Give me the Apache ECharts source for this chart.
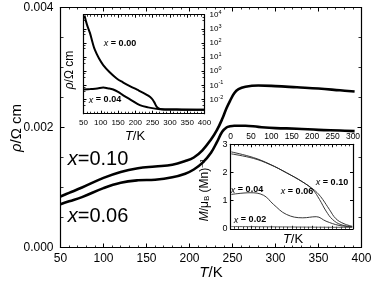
<!DOCTYPE html>
<html>
<head>
<meta charset="utf-8">
<script src="https://cdn.jsdelivr.net/npm/echarts@6/dist/echarts.min.js"></script>
<style>
html,body{margin:0;padding:0;background:#fff;}
#c{width:375px;height:287px;}
</style>
</head>
<body>
<div id="c"></div>
<script>
// ---- Main panel: resistivity (Ω cm) vs T (K)
const T_MAIN   = [50, 60, 75, 100, 120, 140, 160, 180, 195, 205, 215, 225, 232, 238, 243, 247, 252, 257, 265, 280, 300, 325, 350, 375, 392];
const RHO_X010 = [0.00085,0.00091,0.00100,0.00116,0.00126,0.00132,0.00135,0.00138,0.00144,0.00150,0.00162,0.00180,0.00196,0.00214,0.00232,0.00244,0.00257,0.00264,0.00268,0.00270,0.00269,0.00267,0.00265,0.00262,0.00260];
const RHO_X006 = [0.00072,0.00077,0.00084,0.00099,0.00108,0.00112,0.00113,0.00117,0.00123,0.00130,0.00141,0.00158,0.00176,0.00193,0.00200,0.00202,0.00203,0.00203,0.00203,0.00201,0.00199,0.00198,0.00196,0.00195,0.00194];
const MAIN_X_TICKS = [50, 400, 50];
const MAIN_Y_TICKS = [0, 0.004, 0.002];

// ---- Inset 1: log resistivity
const T_IN1_X000   = [53, 60, 69, 76, 83, 95, 107, 125, 146, 165, 184, 205, 223, 237, 247, 255, 262, 271, 285, 320, 360, 400];
const RHO_IN1_X000 = [8900, 2000, 480, 112, 32, 7.9, 2.75, 0.89, 0.31, 0.16, 0.089, 0.050, 0.030, 0.019, 0.012, 0.0063, 0.0030, 0.0022, 0.0020, 0.00195, 0.0019, 0.0019];
const T_IN1_X004   = [50, 70, 90, 107, 120, 136, 150, 165, 189, 213, 237, 271, 320, 400];
const RHO_IN1_X004 = [0.051, 0.055, 0.060, 0.071, 0.063, 0.051, 0.035, 0.020, 0.0089, 0.0040, 0.0028, 0.0021, 0.00195, 0.0019];

// ---- Inset 2: magnetisation
const T_IN2_X010 = [2, 56, 97, 137, 177, 202, 215, 226, 242, 258, 278, 298];
const M_IN2_X010 = [2.73, 2.53, 2.29, 1.99, 1.66, 1.41, 1.24, 1.04, 0.69, 0.36, 0.18, 0.09];
const T_IN2_X006 = [2, 56, 97, 137, 177, 202, 218, 234, 250, 270, 298];
const M_IN2_X006 = [2.66, 2.50, 2.28, 1.99, 1.66, 1.38, 1.04, 0.63, 0.33, 0.15, 0.07];
const T_IN2_X004 = [2, 48, 81, 105, 137, 177, 210, 234, 266, 298];
const M_IN2_X004 = [1.22, 1.28, 1.19, 0.87, 0.51, 0.39, 0.43, 0.27, 0.12, 0.07];
const T_IN2_X002 = [2, 100, 200, 298];
const M_IN2_X002 = [0.08, 0.07, 0.06, 0.05];

const FONT = 'Liberation Sans, Arial, Helvetica, sans-serif';
const zip = (a, b) => a.map((v, i) => [v, b[i]]);

const G_MAIN = {left: 60.5, top: 7.5, width: 301, height: 240};
const G_IN1  = {left: 83.5, top: 14.7, width: 121, height: 99};
const G_IN2  = {left: 230.5, top: 144.3, width: 122.5, height: 84.5};

function frameAxis(extra) {
  return Object.assign({
    axisLine: {show: true, onZero: false, lineStyle: {color: '#000', width: 1.2}},
    axisTick: {show: true, inside: true, length: 4, lineStyle: {color: '#000', width: 1}},
    minorTick: {show: true, splitNumber: 5, length: 2, lineStyle: {color: '#000', width: 0.8}},
    splitLine: {show: false},
    minorSplitLine: {show: false},
    axisLabel: {show: false}
  }, extra);
}

const supRich = {
  s: {fontSize: 5.5, lineHeight: 6, verticalAlign: 'top', fontFamily: FONT, color: '#000'},
  b: {fontSize: 8, lineHeight: 11, fontFamily: FONT, color: '#000'}
};

const option = {
  animation: false,
  backgroundColor: '#fff',
  grid: [
    Object.assign({}, G_MAIN),
    Object.assign({show: true, backgroundColor: '#fff', borderWidth: 0}, G_IN1),
    Object.assign({show: true, backgroundColor: '#fff', borderWidth: 0}, G_IN2)
  ],
  xAxis: [
    frameAxis({gridIndex: 0, type: 'value', position: 'bottom', min: MAIN_X_TICKS[0], max: MAIN_X_TICKS[1], interval: MAIN_X_TICKS[2],
      axisLabel: {show: true, fontSize: 12, fontFamily: FONT, color: '#000', margin: 5}}),
    frameAxis({gridIndex: 0, type: 'value', position: 'top', min: MAIN_X_TICKS[0], max: MAIN_X_TICKS[1], interval: MAIN_X_TICKS[2]}),
    frameAxis({gridIndex: 1, type: 'value', position: 'bottom', min: 50, max: 400, interval: 50,
      axisTick: {show: true, inside: true, length: 3, lineStyle: {color: '#000', width: 1}},
      axisLabel: {show: true, fontSize: 8, fontFamily: FONT, color: '#000', margin: 5}}),
    frameAxis({gridIndex: 1, type: 'value', position: 'top', min: 50, max: 400, interval: 50,
      axisTick: {show: true, inside: true, length: 3, lineStyle: {color: '#000', width: 1}}}),
    frameAxis({gridIndex: 2, type: 'value', position: 'top', min: 0, max: 300, interval: 50,
      axisTick: {show: true, inside: true, length: 3, lineStyle: {color: '#000', width: 1}},
      axisLabel: {show: true, fontSize: 8.5, fontFamily: FONT, color: '#000', margin: 3}}),
    frameAxis({gridIndex: 2, type: 'value', position: 'bottom', min: 0, max: 300, interval: 50,
      axisTick: {show: true, inside: true, length: 3, lineStyle: {color: '#000', width: 1}}})
  ],
  yAxis: [
    frameAxis({gridIndex: 0, type: 'value', position: 'left', min: MAIN_Y_TICKS[0], max: MAIN_Y_TICKS[1], interval: MAIN_Y_TICKS[2],
      minorTick: {show: true, splitNumber: 4, length: 3, lineStyle: {color: '#000', width: 0.8}},
      axisLabel: {show: true, fontSize: 12, fontFamily: FONT, color: '#000', margin: 7, formatter: v => v.toFixed(3)}}),
    frameAxis({gridIndex: 0, type: 'value', position: 'right', min: MAIN_Y_TICKS[0], max: MAIN_Y_TICKS[1], interval: MAIN_Y_TICKS[2],
      minorTick: {show: true, splitNumber: 4, length: 3, lineStyle: {color: '#000', width: 0.8}}}),
    frameAxis({gridIndex: 1, type: 'log', logBase: 10, position: 'right', min: 0.001, max: 10000, splitNumber: 7,
      axisTick: {show: true, inside: true, length: 3, lineStyle: {color: '#000', width: 1}},
      minorTick: {show: true, splitNumber: 3, length: 2, lineStyle: {color: '#000', width: 0.8}},
      axisLabel: {show: true, margin: 5, fontSize: 8, fontFamily: FONT, color: '#000', rich: supRich,
        formatter: v => { const e = Math.round(Math.log10(v)); return e <= -3 ? '' : '{b|10}{s|' + String(e).replace('-', '-') + '}'; }}}),
    frameAxis({gridIndex: 1, type: 'log', logBase: 10, position: 'left', min: 0.001, max: 10000, splitNumber: 7,
      axisTick: {show: true, inside: true, length: 3, lineStyle: {color: '#000', width: 1}},
      minorTick: {show: true, splitNumber: 3, length: 2, lineStyle: {color: '#000', width: 0.8}}}),
    frameAxis({gridIndex: 2, type: 'value', position: 'left', min: 0, max: 3, interval: 1,
      axisTick: {show: true, inside: true, length: 3, lineStyle: {color: '#000', width: 1}},
      minorTick: {show: false},
      axisLabel: {show: true, fontSize: 9, fontFamily: FONT, color: '#000', margin: 3}}),
    frameAxis({gridIndex: 2, type: 'value', position: 'right', min: 0, max: 3, interval: 1,
      axisTick: {show: true, inside: true, length: 3, lineStyle: {color: '#000', width: 1}},
      minorTick: {show: false}})
  ],
  series: [
    {type: 'line', xAxisIndex: 0, yAxisIndex: 0, data: zip(T_MAIN, RHO_X010), smooth: 0.4, showSymbol: false, lineStyle: {color: '#000', width: 2.6}},
    {type: 'line', xAxisIndex: 0, yAxisIndex: 0, data: zip(T_MAIN, RHO_X006), smooth: 0.4, showSymbol: false, lineStyle: {color: '#000', width: 2.6}},
    {type: 'line', xAxisIndex: 2, yAxisIndex: 2, data: zip(T_IN1_X000, RHO_IN1_X000), smooth: 0.4, showSymbol: false, lineStyle: {color: '#000', width: 2}},
    {type: 'line', xAxisIndex: 2, yAxisIndex: 2, data: zip(T_IN1_X004, RHO_IN1_X004), smooth: 0.4, showSymbol: false, lineStyle: {color: '#000', width: 2}},
    {type: 'line', xAxisIndex: 4, yAxisIndex: 4, data: zip(T_IN2_X010, M_IN2_X010), smooth: 0.4, showSymbol: false, lineStyle: {color: '#222', width: 0.9}},
    {type: 'line', xAxisIndex: 4, yAxisIndex: 4, data: zip(T_IN2_X006, M_IN2_X006), smooth: 0.4, showSymbol: false, lineStyle: {color: '#222', width: 0.9}},
    {type: 'line', xAxisIndex: 4, yAxisIndex: 4, data: zip(T_IN2_X004, M_IN2_X004), smooth: 0.4, showSymbol: false, lineStyle: {color: '#222', width: 0.9}},
    {type: 'line', xAxisIndex: 4, yAxisIndex: 4, data: zip(T_IN2_X002, M_IN2_X002), smooth: 0.4, showSymbol: false, lineStyle: {color: '#444', width: 0.9}}
  ],
  graphic: [
    // main axis names
    {type: 'text', x: 17, y: 128, rotation: Math.PI / 2, z: 100,
      style: {text: '{i|ρ}/Ω cm', fontSize: 15, fontFamily: FONT, fill: '#000', align: 'center', verticalAlign: 'middle',
        rich: {i: {fontStyle: 'italic', fontSize: 15, fontFamily: FONT}}}},
    {type: 'text', x: 211, y: 273, z: 100,
      style: {text: '{i|T}/K', fontSize: 15, fontFamily: FONT, fill: '#000', align: 'center', verticalAlign: 'middle',
        rich: {i: {fontStyle: 'italic', fontSize: 15, fontFamily: FONT}}}},
    // main curve labels
    {type: 'text', x: 98, y: 159, z: 100,
      style: {text: '{i|x}=0.10', fontSize: 20, fontFamily: FONT, fill: '#000', align: 'center', verticalAlign: 'middle',
        rich: {i: {fontStyle: 'italic', fontSize: 20, fontFamily: FONT}}}},
    {type: 'text', x: 98, y: 216, z: 100,
      style: {text: '{i|x}=0.06', fontSize: 20, fontFamily: FONT, fill: '#000', align: 'center', verticalAlign: 'middle',
        rich: {i: {fontStyle: 'italic', fontSize: 20, fontFamily: FONT}}}},
    // inset 1 names and labels
    {type: 'text', x: 70, y: 70, rotation: Math.PI / 2, z: 100,
      style: {text: '{i|ρ}/Ω cm', fontSize: 12, fontFamily: FONT, fill: '#000', align: 'center', verticalAlign: 'middle',
        rich: {i: {fontStyle: 'italic', fontSize: 12, fontFamily: FONT}}}},
    {type: 'text', x: 135, y: 136.5, z: 100,
      style: {text: '{i|T}/K', fontSize: 13, fontFamily: FONT, fill: '#000', align: 'center', verticalAlign: 'middle',
        rich: {i: {fontStyle: 'italic', fontSize: 13, fontFamily: FONT}}}},
    {type: 'text', x: 120, y: 43.5, z: 100,
      style: {text: '{i|x} = 0.00', fontSize: 9, fontWeight: 'bold', fontFamily: FONT, fill: '#000', align: 'center', verticalAlign: 'middle',
        rich: {i: {fontStyle: 'italic', fontSize: 9, fontFamily: FONT}}}},
    {type: 'text', x: 105, y: 100, z: 100,
      style: {text: '{i|x} = 0.04', fontSize: 9, fontWeight: 'bold', fontFamily: FONT, fill: '#000', align: 'center', verticalAlign: 'middle',
        rich: {i: {fontStyle: 'italic', fontSize: 9, fontFamily: FONT}}}},
    // inset 2 names and labels
    {type: 'text', x: 205, y: 190, rotation: Math.PI / 2, z: 100,
      style: {text: '{i|M}/μ{sub|B} (Mn){sup|−1}', fontSize: 12, fontFamily: FONT, fill: '#000', align: 'center', verticalAlign: 'middle',
        rich: {i: {fontStyle: 'italic', fontSize: 12, fontFamily: FONT},
               sub: {fontSize: 8, fontFamily: FONT, verticalAlign: 'bottom', lineHeight: 8},
               sup: {fontSize: 8, fontFamily: FONT, verticalAlign: 'top', lineHeight: 8}}}},
    {type: 'text', x: 293, y: 239.5, z: 100,
      style: {text: '{i|T}/K', fontSize: 13, fontFamily: FONT, fill: '#000', align: 'center', verticalAlign: 'middle',
        rich: {i: {fontStyle: 'italic', fontSize: 13, fontFamily: FONT}}}},
    {type: 'text', x: 332, y: 182.5, z: 100,
      style: {text: '{i|x} = 0.10', fontSize: 9, fontWeight: 'bold', fontFamily: FONT, fill: '#000', align: 'center', verticalAlign: 'middle',
        rich: {i: {fontStyle: 'italic', fontSize: 9, fontFamily: FONT}}}},
    {type: 'text', x: 297, y: 191.5, z: 100,
      style: {text: '{i|x} = 0.06', fontSize: 9, fontWeight: 'bold', fontFamily: FONT, fill: '#000', align: 'center', verticalAlign: 'middle',
        rich: {i: {fontStyle: 'italic', fontSize: 9, fontFamily: FONT}}}},
    {type: 'text', x: 247, y: 190, z: 100,
      style: {text: '{i|x} = 0.04', fontSize: 9, fontWeight: 'bold', fontFamily: FONT, fill: '#000', align: 'center', verticalAlign: 'middle',
        rich: {i: {fontStyle: 'italic', fontSize: 9, fontFamily: FONT}}}},
    {type: 'text', x: 250, y: 220, z: 100,
      style: {text: '{i|x} = 0.02', fontSize: 9, fontWeight: 'bold', fontFamily: FONT, fill: '#000', align: 'center', verticalAlign: 'middle',
        rich: {i: {fontStyle: 'italic', fontSize: 9, fontFamily: FONT}}}}
  ]
};

const chart = echarts.init(document.getElementById('c'), null, {renderer: 'canvas'});
chart.setOption(option);
</script>
</body>
</html>
